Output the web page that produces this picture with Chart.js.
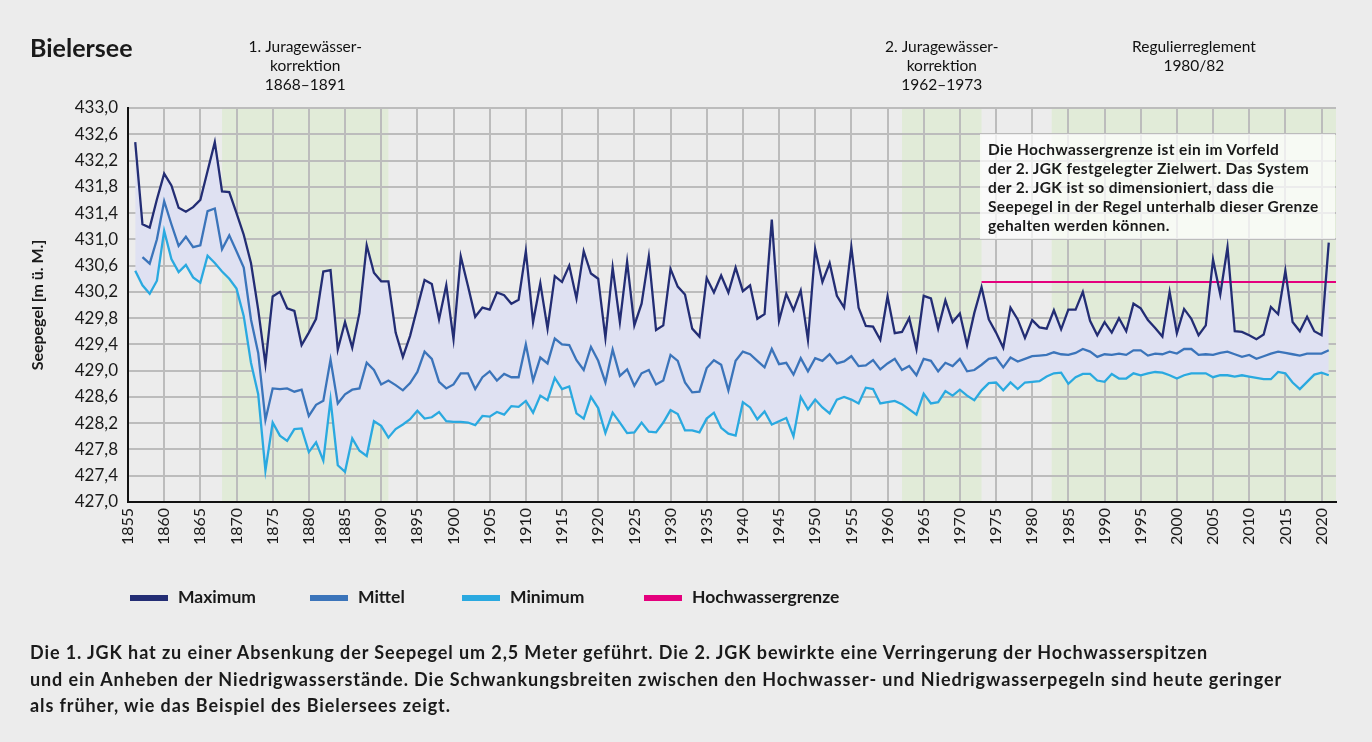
<!DOCTYPE html>
<html>
<head>
<meta charset="utf-8">
<script src="https://cdn.jsdelivr.net/npm/chart.js@4.4.0/dist/chart.umd.min.js"></script>
<style>
  body { margin: 0; background: #ececec; }
  #wrap { position: relative; width: 1372px; height: 742px; background: #ececec; overflow: hidden;
          font-family: Lato, "Liberation Sans", sans-serif; color: #1a1a1a; }
  #chart { position: absolute; left: 0; top: 0; }
  .title { position: absolute; left: 30px; top: 32px; font-size: 25px; font-weight: 700; line-height: 30px; }
  .note { position: absolute; left: 980px; top: 134px; width: 355px; height: 105px; box-sizing: border-box;
          padding: 6px 8px; background: rgba(255,255,255,0.72); font-size: 15.5px; font-weight: 700;
          letter-spacing: 0.35px; line-height: 19px; white-space: nowrap; }
  .lg { position: absolute; top: 586px; font-size: 17.5px; font-weight: 700; line-height: 22px; white-space: nowrap; }
  .lg span { display: inline-block; width: 38px; height: 6px; margin-right: 10px; vertical-align: middle; position: relative; top: -1px; }
  .caption { position: absolute; left: 30px; top: 639px; font-size: 18px; font-weight: 700; letter-spacing: 0.9px;
             line-height: 26.5px; white-space: nowrap; }
</style>
</head>
<body>
<div id="wrap">
  <canvas id="chart" width="1372" height="742"></canvas>
  <div class="title">Bielersee</div>
  <div class="note">Die Hochwassergrenze ist ein im Vorfeld<br>der 2. JGK festgelegter Zielwert. Das System<br>der 2. JGK ist so dimensioniert, dass die<br>Seepegel in der Regel unterhalb dieser Grenze<br>gehalten werden können.</div>
  <div id="legend"></div>
  <div class="caption">Die 1. JGK hat zu einer Absenkung der Seepegel um 2,5 Meter geführt. Die 2. JGK bewirkte eine Verringerung der Hochwasserspitzen<br>und ein Anheben der Niedrigwasserstände. Die Schwankungsbreiten zwischen den Hochwasser- und Niedrigwasserpegeln sind heute geringer<br>als früher, wie das Beispiel des Bielersees zeigt.</div>
</div>
<script>
// Jahre 1856 - 2021
var firstYear = 1856;

// Maximum (m ü. M.)
var maxLevel = [
  432.48, 431.23, 431.18, 431.61,
  432.00, 431.82, 431.48, 431.42, 431.49, 431.60, 432.04, 432.48, 431.73, 431.72,
  431.40, 431.07, 430.64, 429.93, 429.10, 430.13, 430.20, 429.95, 429.91, 429.39,
  429.58, 429.79, 430.51, 430.53, 429.32, 429.74, 429.35, 429.88, 430.91, 430.49,
  430.36, 430.36, 429.58, 429.21, 429.53, 429.96, 430.38, 430.32, 429.78, 430.30,
  429.48, 430.74, 430.29, 429.82, 429.96, 429.93, 430.19, 430.15, 430.02, 430.08,
  430.82, 429.74, 430.33, 429.64, 430.44, 430.35, 430.60, 430.10, 430.82, 430.48,
  430.40, 429.50, 430.57, 429.74, 430.66, 429.69, 430.02, 430.74, 429.62, 429.69,
  430.55, 430.28, 430.16, 429.64, 429.52, 430.41, 430.19, 430.45, 430.19, 430.57,
  430.21, 430.30, 429.79, 429.86, 431.30, 429.76, 430.17, 429.92, 430.22, 429.47,
  430.85, 430.35, 430.64, 430.14, 429.96, 430.88, 429.96, 429.68, 429.67, 429.47,
  430.13, 429.57, 429.59, 429.80, 429.33, 430.14, 430.10, 429.64, 430.07, 429.74,
  429.87, 429.39, 429.88, 430.27, 429.78, 429.58, 429.35, 429.96, 429.78, 429.50,
  429.77, 429.66, 429.64, 429.92, 429.63, 429.93, 429.93, 430.20, 429.76, 429.54,
  429.74, 429.58, 429.80, 429.60, 430.02, 429.95, 429.77, 429.65, 429.52, 430.20,
  429.57, 429.94, 429.79, 429.54, 429.69, 430.69, 430.16, 430.88, 429.60, 429.59,
  429.54, 429.48, 429.55, 429.97, 429.86, 430.52, 429.74, 429.60, 429.82, 429.60,
  429.54, 430.95
];

// Mittel
var meanLevel = [
  null, 430.73, 430.63, 431.00,
  431.58, 431.23, 430.90, 431.04, 430.88, 430.91, 431.43, 431.47, 430.85, 431.06,
  430.82, 430.57, 429.78, 429.27, 428.25, 428.73, 428.72, 428.73, 428.68, 428.71,
  428.31, 428.48, 428.54, 429.17, 428.50, 428.64, 428.71, 428.73, 429.12, 429.01,
  428.79, 428.85, 428.78, 428.70, 428.81, 428.98, 429.29, 429.18, 428.83, 428.73,
  428.79, 428.96, 428.96, 428.72, 428.90, 428.99, 428.85, 428.95, 428.90, 428.90,
  429.40, 428.85, 429.20, 429.11, 429.49, 429.40, 429.39, 429.16, 429.01, 429.36,
  429.15, 428.82, 429.32, 428.92, 429.02, 428.77, 428.96, 429.01, 428.79, 428.85,
  429.24, 429.15, 428.82, 428.67, 428.68, 429.04, 429.16, 429.09, 428.70, 429.15,
  429.29, 429.25, 429.15, 429.05, 429.33, 429.10, 429.12, 428.94, 429.19, 428.99,
  429.19, 429.15, 429.25, 429.11, 429.14, 429.22, 429.07, 429.08, 429.16, 429.02,
  429.11, 429.18, 429.01, 429.07, 428.93, 429.18, 429.15, 428.99, 429.12, 429.07,
  429.18, 428.99, 429.01, 429.09, 429.18, 429.20, 429.05, 429.20, 429.14, 429.18,
  429.22, 429.23, 429.24, 429.28, 429.25, 429.24, 429.27, 429.33, 429.29, 429.21,
  429.25, 429.24, 429.26, 429.24, 429.31, 429.31, 429.23, 429.26, 429.25, 429.29,
  429.26, 429.33, 429.33, 429.24, 429.25, 429.24, 429.27, 429.29, 429.25, 429.21,
  429.24, 429.18, 429.22, 429.26, 429.29, 429.27, 429.25, 429.23, 429.26, 429.26,
  429.26, 429.31
];

// Minimum
var minLevel = [
  430.52, 430.30, 430.17, 430.37,
  431.13, 430.70, 430.50, 430.61, 430.42, 430.34, 430.75, 430.64, 430.51, 430.40,
  430.25, 429.83, 429.12, 428.64, 427.48, 428.21, 428.01, 427.93, 428.11, 428.12,
  427.76, 427.91, 427.63, 428.56, 427.56, 427.46, 427.97, 427.78, 427.70, 428.23,
  428.16, 427.98, 428.11, 428.18, 428.26, 428.39, 428.27, 428.29, 428.37, 428.23,
  428.22, 428.22, 428.21, 428.17, 428.31, 428.30, 428.37, 428.33, 428.46, 428.45,
  428.54, 428.36, 428.62, 428.55, 428.89, 428.72, 428.76, 428.35, 428.27, 428.60,
  428.43, 428.05, 428.36, 428.21, 428.05, 428.06, 428.21, 428.07, 428.06, 428.21,
  428.40, 428.34, 428.09, 428.09, 428.06, 428.27, 428.36, 428.13, 428.04, 428.01,
  428.52, 428.44, 428.26, 428.38, 428.18, 428.23, 428.28, 428.00, 428.60, 428.41,
  428.56, 428.44, 428.35, 428.56, 428.60, 428.56, 428.50, 428.74, 428.72, 428.50,
  428.52, 428.54, 428.49, 428.41, 428.33, 428.65, 428.50, 428.52, 428.69, 428.62,
  428.71, 428.62, 428.55, 428.70, 428.81, 428.82, 428.70, 428.82, 428.72, 428.82,
  428.83, 428.84, 428.91, 428.96, 428.97, 428.80, 428.90, 428.95, 428.95, 428.85,
  428.83, 428.95, 428.88, 428.88, 428.96, 428.93, 428.96, 428.98, 428.97, 428.93,
  428.88, 428.93, 428.96, 428.96, 428.96, 428.90, 428.93, 428.93, 428.91, 428.93,
  428.91, 428.89, 428.87, 428.87, 428.98, 428.96, 428.82, 428.72, 428.83, 428.94,
  428.97, 428.93
];

// Hochwassergrenze
var hwYears = [1973, 2022];
var hwLevel = 430.35;

// Perioden (gruen hinterlegt)
var periodStart = [1868, 1962, 1982.7];
var periodEnd = [1891, 1973, 2022];
var periodText = [
  ["1. Juragewässer-", "korrektion", "1868–1891"],
  ["2. Juragewässer-", "korrektion", "1962–1973"],
  ["Regulierreglement", "1980/82"]
];

var years = maxLevel.map(function (v, i) { return firstYear + i; });

function pts(arr) {
  return years.map(function (y, i) { return { x: y, y: arr[i] }; });
}

var FONT = 'Lato, "Liberation Sans", sans-serif';

// hintergrund + periodentexte
var periodPlugin = {
  id: 'periods',
  beforeDraw: function (chart) {
    var ctx = chart.ctx, a = chart.chartArea, x = chart.scales.x;
    ctx.save();
    ctx.fillStyle = '#e1ebd8';
    periodStart.forEach(function (s, i) {
      var x0 = x.getPixelForValue(s), x1 = x.getPixelForValue(periodEnd[i]);
      ctx.fillRect(x0, a.top, x1 - x0, a.bottom - a.top);
    });
    ctx.fillStyle = '#111';
    ctx.font = '15.5px ' + FONT;
    ctx.textAlign = 'center';
    ctx.textBaseline = 'middle';
    periodText.forEach(function (lines, i) {
      var cx = (x.getPixelForValue(periodStart[i]) + x.getPixelForValue(periodEnd[i])) / 2;
      lines.forEach(function (t, j) { ctx.fillText(t, cx, 47 + j * 19); });
    });
    ctx.restore();
  }
};

var gridStyle = { color: '#bcbcbc', lineWidth: 2, drawTicks: false };

var chart = new Chart(document.getElementById('chart'), {
  type: 'line',
  data: {
    datasets: [
      { label: 'Maximum', data: pts(maxLevel), borderColor: '#232d74', backgroundColor: '#dfe1f2',
        borderWidth: 2.3, pointRadius: 0, tension: 0, fill: { target: 2 } },
      { label: 'Mittel', data: pts(meanLevel), borderColor: '#3b74ba',
        borderWidth: 2.3, pointRadius: 0, tension: 0, fill: false },
      { label: 'Minimum', data: pts(minLevel), borderColor: '#2aa9e0',
        borderWidth: 2.3, pointRadius: 0, tension: 0, fill: false },
      { label: 'Hochwassergrenze', data: hwYears.map(function (y) { return { x: y, y: hwLevel }; }),
        borderColor: '#e4007d', borderWidth: 2, pointRadius: 0, fill: false }
    ]
  },
  options: {
    responsive: false,
    animation: false,
    devicePixelRatio: 1,
    layout: { padding: { left: 28, top: 108, right: 36, bottom: 182 } },
    plugins: {
      legend: { display: false },
      tooltip: { enabled: false },
      filler: { drawTime: 'beforeDatasetsDraw' }
    },
    scales: {
      x: {
        type: 'linear', min: 1855, max: 2022,
        afterFit: function (s) { s.height = 58; },
        ticks: { stepSize: 5, includeBounds: false, minRotation: 90, maxRotation: 90, padding: 6,
                 font: { family: FONT, size: 16 }, color: '#1a1a1a',
                 callback: function (v) { return String(v); } },
        grid: gridStyle,
        border: { color: '#111', width: 2 }
      },
      y: {
        min: 427, max: 433,
        afterFit: function (s) { s.width = 100; },
        ticks: { stepSize: 0.4, padding: 10, font: { family: FONT, size: 17 }, color: '#1a1a1a',
                 callback: function (v) { return v.toFixed(1).replace('.', ','); } },
        grid: gridStyle,
        border: { color: '#111', width: 2 },
        title: { display: true, text: 'Seepegel [m ü. M.]', color: '#1a1a1a',
                 font: { family: FONT, size: 16, weight: 'bold' }, padding: { top: 0, bottom: 0 } }
      }
    }
  },
  plugins: [periodPlugin]
});

// legende
var legendLeft = [130, 310, 462, 644];
var lg = document.getElementById('legend');
chart.data.datasets.forEach(function (ds, i) {
  var d = document.createElement('div');
  d.className = 'lg';
  d.style.left = legendLeft[i] + 'px';
  d.innerHTML = '<span style="background:' + ds.borderColor + '"></span>' + ds.label;
  lg.appendChild(d);
});
</script>
</body>
</html>
